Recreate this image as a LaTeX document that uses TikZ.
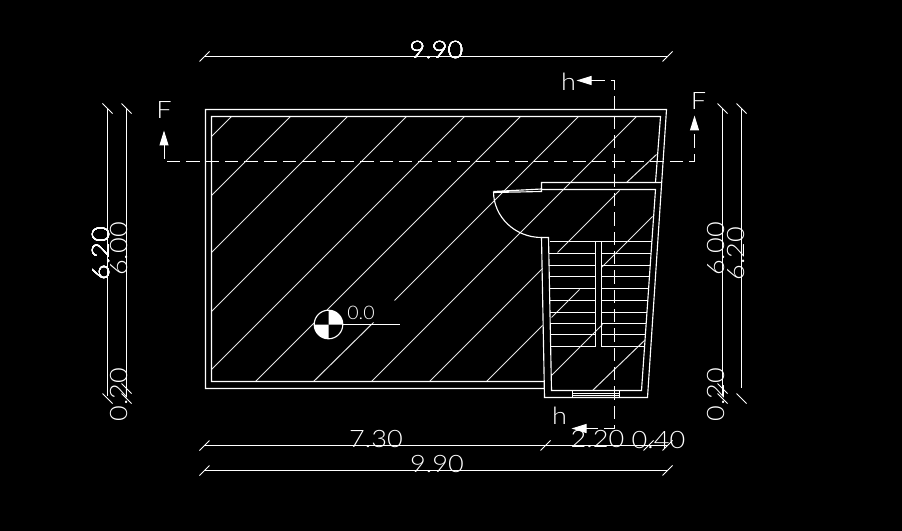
\documentclass[tikz,border=0pt]{standalone}
\usepackage{fontspec}
\newfontfamily\cadfont{Lato}[UprightFont=* Light]
\usetikzlibrary{arrows.meta}
\tikzset{
	wall/.style={draw=white,line width=.85pt},
	hatchline/.style={draw=white!90!black,line width=.75pt},
	cutline/.style={draw=white,line width=.75pt,dash pattern=on 10pt off 4.5pt},
	cutarrow/.style={{Triangle[width=6.75pt,length=11.25pt]}-{Triangle[width=6.75pt,length=11.25pt]}},
	dimline/.style={draw=white,line width=.75pt},
	dimtext/.style={font=\fontsize{18}{18}\cadfont,text=white,inner sep=0pt,xscale=1.13,transform shape},
}
\newcommand{\dimtick}[2]{\draw[dimline] (#1-5,#2+5) -- (#1+5,#2-5);}
\newcommand{\dimtock}[2]{\draw[dimline] (#1-5,#2-5) -- (#1+5,#2+5);}
\begin{document}
\begin{tikzpicture}[x=.75pt,y=-.75pt]
	\fill[black] (.5,.5) rectangle (902.5,531.5);
	\useasboundingbox (.5,.5) rectangle (902.5,531.5);
	% hatching of the slab
	\foreach \xa/\ya/\xb/\yb in {232/117/212/137,291/117/212/196,348/117/212/253,407/117/212/312,
		465/117/212/370,521/117/256/382,579/117/395/301,374/323/314/382,637/117/372/382,
		430/382/543/269,558/253/620/191,627/183/657/155,487/382/543/326,552/318/580/290,
		602/268/653/217,552/376/603/325,593/391/645/341}
		\draw[hatchline] (\xa,\ya) -- (\xb,\yb);
	% walls
	\draw[wall] (545,389) -- (206,389) -- (206,110) -- (667,110) -- (648,398) -- (545,398) -- (542,238)
		-- (549,238) -- (552,391) -- (642,391) -- (656,190) -- (542,190) -- (542,183) -- (662,183);
	\draw[wall] (545,382) -- (212,382) -- (212,117) -- (661,117) -- (656,183);
	% door
	\draw[wall] (494,192) -- (542,189.5) (494,193) -- (542,192) -- (542,190);
	\draw[wall] (494,192) arc[start angle=180,end angle=90,x radius=48,y radius=46];
	% window
	\draw[wall,line width=.5pt] (573,391) rectangle (620,398) (573,393.4) -- (620,393.4) (573,395.7) -- (620,395.7);
	% stairs
	\foreach \ty in {254,266,277,289,301,313,324,335,347}{
		\pgfmathsetmacro{\xl}{549+(\ty-238)*3/153}
		\pgfmathsetmacro{\xr}{656-(\ty-190)*14/201}
		\draw[wall,line width=.75pt] (\xl,\ty) -- (596,\ty) (602,\ty) -- (\xr,\ty);
	}
	\draw[wall,line width=.75pt] (550,242) -- (652,242);
	\draw[wall] (596,242) -- (596,347) (602,242) -- (602,347);
	% level mark
	\fill[black] (329,325) circle[radius=14.3];
	\fill[white] (329,325) -- (329,310.7) arc[start angle=-90,end angle=0,radius=14.3] -- cycle;
	\fill[white] (329,325) -- (329,339.3) arc[start angle=90,end angle=180,radius=14.3] -- cycle;
	\draw[wall] (329,325) circle[radius=14.3];
	\draw[dimline] (343,325) -- (400,325);
	\node[dimtext,font=\fontsize{14}{14}\cadfont,xscale=.93] (levelval) at (361.5,313) {0.0};
	% section lines
	\draw[cutline,cutarrow] (164.5,131) -- (164.5,162) -- (695,162) -- (695,116);
	\draw[cutline,cutarrow] (577,81) -- (614.5,81) -- (614.5,429) -- (572,429);
	\node[dimtext] (fleft) at (164.5,111) {F};
	\node[dimtext] (fright) at (699,102) {F};
	\node[dimtext] (htop) at (569,82) {h};
	\node[dimtext] (hbottom) at (560,416) {h};
	% horizontal dimensions
	\draw[dimline] (205,57) -- (668,57);
	\draw[dimline] (205,446) -- (668,446);
	\draw[dimline] (205,471) -- (668,471);
	\foreach \dx/\dy in {205/57,668/57,205/446,546/446,649/446,668/446,205/471,668/471}
		\dimtick{\dx}{\dy}
	\node[dimtext] (toptotal) at (437,50.5) {9.90};
	\node[dimtext] (roomwidth) at (376.5,439.5) {7.30};
	\node[dimtext] (stairwidth) at (598,439.5) {2.20};
	\node[dimtext] (wallwidth) at (659,440) {0.40};
	\node[dimtext] (bottomtotal) at (437.5,464.5) {9.90};
	% vertical dimensions
	\foreach \dx in {108,127,723,742}
		\draw[dimline] (\dx,109) -- (\dx,\ifnum\dx=742 388\else 396\fi);
	\foreach \dx/\dy in {108/109,127/109,723/109,742/109,108/399,127/389,127/399,723/389,723/399,742/399}
		\dimtock{\dx}{\dy}
	\node[rotate=90,dimtext] (lefttotal) at (102,254) {6.20};
	\node[rotate=90,dimtext] (leftroom) at (120,249.5) {6.00};
	\node[rotate=90,dimtext] (leftwall) at (120,395) {0.20};
	\node[rotate=90,dimtext] (rightroom) at (716,249.5) {6.00};
	\node[rotate=90,dimtext] (righttotal) at (736,254) {6.20};
	\node[rotate=90,dimtext] (rightwall) at (716,395) {0.20};
\end{tikzpicture}
\end{document}
